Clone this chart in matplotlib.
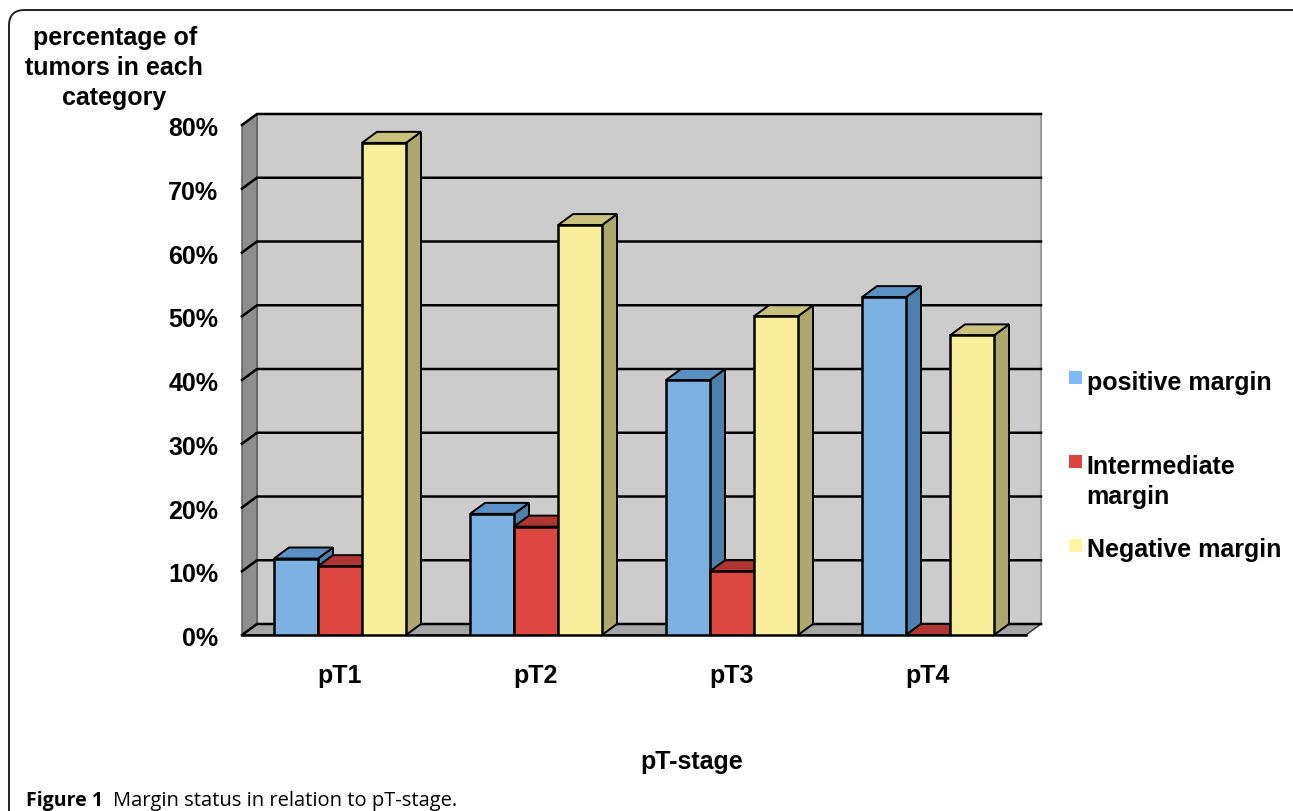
import matplotlib
matplotlib.use("Agg")
import matplotlib.pyplot as plt
from matplotlib.patches import FancyBboxPatch, Polygon, Rectangle

plt.rcParams['font.family'] = ['Liberation Sans', 'DejaVu Sans']

categorias = ["pT1", "pT2", "pT3", "pT4"]
positive = [12, 19, 40, 53]
intermediate = [10.8, 17, 10, 0]
negative = [77.2, 64.3, 50, 47]
ticks_y = [0, 10, 20, 30, 40, 50, 60, 70, 80]
labels_y = ["0%", "10%", "20%", "30%", "40%", "50%", "60%", "70%", "80%"]

W, H = 1293, 812
# profundidade do efeito 3d, em unidades de dados
DX = 15 / 196
DY = 11 / 6.375
LARG = 44 / 196
FONTE = 18

fig = plt.figure(figsize=(W / 100, H / 100), dpi=100, facecolor="white")
ax = fig.add_axes([242 / W, 1 - 636 / H, 784 / W, 510 / H])
ax.set_xlim(-0.5, 3.5)
ax.set_ylim(0, 80)
ax.axis("off")


def px(x, y):
    return x / W, 1 - y / H


# moldura
fig.add_artist(FancyBboxPatch(px(9, 1300), 1400 / W, 1289 / H, transform=fig.transFigure,
                              boxstyle="round,pad=0,rounding_size=0.012", mutation_aspect=W / H,
                              fc="none", ec="#222222", lw=1.4))

# paredes e chao
x0, x1 = -0.5, 3.5
y0, y1 = ticks_y[0], ticks_y[-1]


def poly(pts, fc, ec="black", lw=1.0, z=1):
    ax.add_patch(Polygon(pts, closed=True, fc=fc, ec=ec, lw=lw, zorder=z, clip_on=False))


poly([(x0 + DX, y0 + DY), (x1 + DX, y0 + DY), (x1 + DX, y1 + DY), (x0 + DX, y1 + DY)], "#CCCCCC", ec="#999999", lw=1.5)
poly([(x0, y0), (x0 + DX, y0 + DY), (x0 + DX, y1 + DY), (x0, y1)], "#8E8E8E", ec="#555555")
poly([(x0, y0), (x1, y0), (x1 + DX, y0 + DY), (x0 + DX, y0 + DY)], "#A6A6A6", ec="#333333")

for t in ticks_y:
    ax.plot([x0, x0 + DX, x1 + DX], [t, t + DY, t + DY], color="black", lw=1.8, zorder=2,
            clip_on=False, solid_joinstyle="miter")
ax.plot([x0, x1], [0, 0], color="black", lw=1.8, zorder=2, clip_on=False)

series = [
    (positive, -1, "#7DB1E2", "#5B90C4", "#4F7FAB"),
    (intermediate, 0, "#DD4641", "#B03632", "#9C2F2C"),
    (negative, 1, "#F8EE9C", "#C9C27F", "#ADA76E"),
]

for i in range(len(categorias)):
    for valores, desl, frente, topo, lado in series:
        v = valores[i]
        xa = i + desl * LARG - LARG / 2
        xb = xa + LARG
        poly([(xb, 0), (xb + DX, DY), (xb + DX, v + DY), (xb, v)], lado, lw=1.4, z=3)
        poly([(xa, v), (xb, v), (xb + DX, v + DY), (xa + DX, v + DY)], topo, lw=1.4, z=3)
        ax.bar(i + desl * LARG, v, LARG, color=frente, edgecolor="black", linewidth=1.8, zorder=3)

# eixos
for t, lab in zip(ticks_y, labels_y):
    ax.annotate(lab, (x0, t), xytext=(-17, -2.2), textcoords="offset points",
                ha="right", va="center", fontsize=FONTE, fontweight="bold", annotation_clip=False)
for i, c in enumerate(categorias):
    ax.annotate(c, (i, 0), xytext=(-0.3, -28.5), textcoords="offset points", ha="center", va="center",
                fontsize=FONTE, fontweight="bold", annotation_clip=False)


def texto(x, y, s, ha="left", size=FONTE, **kw):
    fx, fy = px(x, y)
    return fig.text(fx, fy, s, ha=ha, va="center", fontsize=size, fontweight=kw.pop("fontweight", "bold"), **kw)


texto(115, 38, "percentage of", ha="center")
texto(114, 68, "tumors in each", ha="center")
texto(114, 98, "category", ha="center")
texto(692, 762, "pT-stage", ha="center")

# legenda
legenda = [
    (372, "#7FB9F7", 1087, [(383, "positive margin")]),
    (456, "#DD4440", 1086, [(467, "Intermediate"), (497, "margin")]),
    (540, "#FFF5A0", 1087, [(550, "Negative margin")]),
]
for y, cor, lx, linhas in legenda:
    fig.add_artist(Rectangle(px(1069, y + 13), 13 / W, 13 / H, transform=fig.transFigure, fc=cor, ec="none"))
    for ly, s in linhas:
        texto(lx, ly, s)

# legenda da figura
fam = ['Open Sans', 'DejaVu Sans']
texto(26, 801, "Figure 1", size=14, family=fam)
texto(113, 801, "Margin status in relation to pT-stage.", size=14.5, family=fam, fontweight="normal")

fig.savefig("out.png", dpi=100)
